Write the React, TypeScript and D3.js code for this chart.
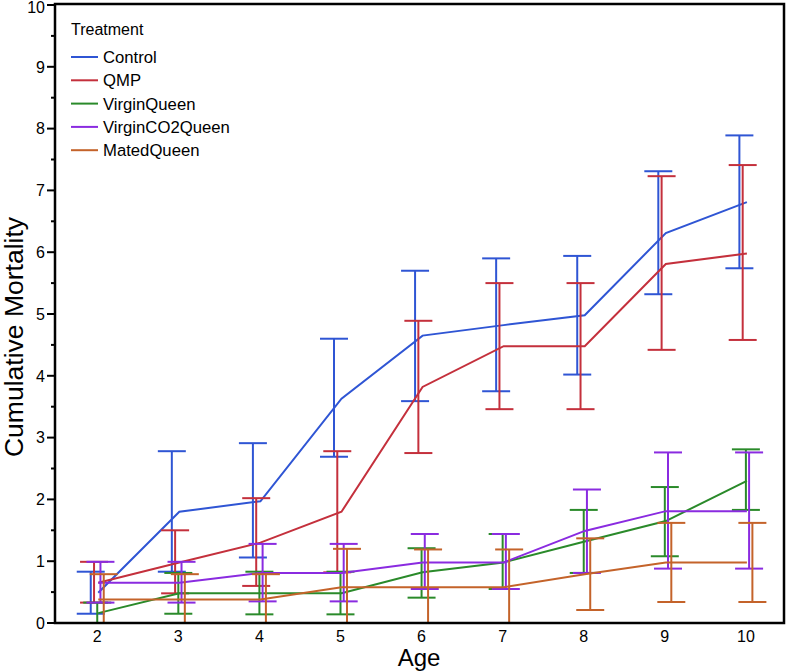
import React from "react";
import * as d3 from "d3";

const ages = [2, 3, 4, 5, 6, 7, 8, 9, 10];
const treatments = ["Control", "QMP", "VirginQueen", "VirginCO2Queen", "MatedQueen"];
const colors = ["#2F55D4", "#C4303C", "#2A8A2A", "#8A2BE0", "#C4632A"];

const controlMean = [0.49, 1.8, 1.97, 3.63, 4.65, 4.82, 4.98, 6.31, 6.81];
const controlLower = [0.15, 0.83, 1.06, 2.69, 3.59, 3.75, 4.02, 5.32, 5.74];
const controlUpper = [0.83, 2.78, 2.91, 4.6, 5.7, 5.9, 5.94, 7.31, 7.89];

const qmpMean = [0.65, 0.98, 1.3, 1.8, 3.82, 4.48, 4.48, 5.81, 5.98];
const qmpLower = [0.33, 0.48, 0.6, 0.82, 2.75, 3.46, 3.46, 4.42, 4.58];
const qmpUpper = [0.99, 1.5, 2.02, 2.78, 4.89, 5.5, 5.5, 7.23, 7.41];

const virginMean = [0.16, 0.48, 0.48, 0.48, 0.82, 0.98, 1.32, 1.65, 2.3];
const virginLower = [-0.02, 0.15, 0.14, 0.14, 0.41, 0.55, 0.81, 1.08, 1.83];
const virginUpper = [0.33, 0.81, 0.83, 0.83, 1.21, 1.44, 1.83, 2.2, 2.81];

const co2Mean = [0.65, 0.65, 0.81, 0.81, 0.98, 0.98, 1.49, 1.81, 1.81];
const co2Lower = [0.33, 0.33, 0.35, 0.35, 0.55, 0.55, 0.81, 0.88, 0.88];
const co2Upper = [0.99, 0.99, 1.28, 1.28, 1.44, 1.44, 2.16, 2.76, 2.76];

const matedMean = [0.38, 0.38, 0.38, 0.58, 0.58, 0.58, 0.79, 0.98, 0.98];
const matedLower = [-0.03, -0.03, -0.03, -0.04, -0.04, -0.04, 0.21, 0.34, 0.34];
const matedUpper = [0.79, 0.79, 0.79, 1.2, 1.19, 1.19, 1.37, 1.62, 1.62];

const yTicks = [0, 1, 2, 3, 4, 5, 6, 7, 8, 9, 10];

const means = [controlMean, qmpMean, virginMean, co2Mean, matedMean];
const lowers = [controlLower, qmpLower, virginLower, co2Lower, matedLower];
const uppers = [controlUpper, qmpUpper, virginUpper, co2Upper, matedUpper];

const W = 792;
const H = 671;
const left = 55;
const right = 784;
const top = 4;
const bottom = 623;
const font = "'Liberation Sans', Arial, sans-serif";

export default function App() {
  const x = d3.scaleLinear().domain([1.479, 10.47]).range([left, right]);
  const y = d3.scaleLinear().domain([0, 10]).range([bottom, 5]);
  const offsets = [-6.5, -3.2, 0, 3.2, 6.5];
  const capHalf = 14;

  const line = d3
    .line<[number, number]>()
    .x((d) => x(d[0]) + 1)
    .y((d) => y(d[1]));

  const minorTicks = d3.range(0.5, 10, 1);

  return (
    <svg
      width={W}
      height={H}
      style={{ position: "absolute", left: 0, top: 0, background: "#fff" }}
      fontFamily={font}
    >
      <defs>
        <clipPath id="plotclip">
          <rect x={left} y={top} width={right - left} height={bottom - top} />
        </clipPath>
      </defs>
      <rect x={0} y={0} width={W} height={H} fill="#fff" />

      <g clipPath="url(#plotclip)">
        {treatments.map((t, si) => (
          <g key={t}>
            {ages.map((a, i) => {
              const cx = x(a) + offsets[si];
              const lo = y(lowers[si][i]);
              const hi = y(uppers[si][i]);
              return (
                <g key={a} stroke={colors[si]} strokeWidth={2} fill="none">
                  <line x1={cx} x2={cx} y1={lo} y2={hi} />
                  <line x1={cx - capHalf} x2={cx + capHalf} y1={lo} y2={lo} />
                  <line x1={cx - capHalf} x2={cx + capHalf} y1={hi} y2={hi} />
                </g>
              );
            })}
            <path
              d={line(ages.map((a, i) => [a, means[si][i]] as [number, number])) || ""}
              fill="none"
              stroke={colors[si]}
              strokeWidth={2}
            />
          </g>
        ))}
      </g>

      {/* frame */}
      <rect
        x={left}
        y={top}
        width={right - left}
        height={bottom - top}
        fill="none"
        stroke="#000"
        strokeWidth={2.5}
      />

      {/* y axis ticks */}
      {yTicks.map((v) => (
        <g key={v}>
          <line x1={left - 8} x2={left} y1={y(v)} y2={y(v)} stroke="#000" strokeWidth={2} />
          <text
            x={left - 10}
            y={Math.max(y(v), 7)}
            dy="0.36em"
            textAnchor="end"
            fontSize={16}
            fill="#000"
          >
            {v}
          </text>
        </g>
      ))}
      {minorTicks.map((v) => (
        <line key={v} x1={left - 4} x2={left} y1={y(v)} y2={y(v)} stroke="#000" strokeWidth={2} />
      ))}

      {/* x axis labels */}
      {ages.map((a) => (
        <text key={a} x={x(a)} y={642} textAnchor="middle" fontSize={16} fill="#000">
          {a}
        </text>
      ))}

      <text x={419} y={666} textAnchor="middle" fontSize={24} fill="#000">
        Age
      </text>
      <text
        transform={`translate(23,337) rotate(-90)`}
        textAnchor="middle"
        fontSize={26.5}
        fill="#000"
      >
        Cumulative Mortality
      </text>

      {/* legend */}
      <text x={71} y={34.5} fontSize={16} fill="#000">
        Treatment
      </text>
      {treatments.map((t, si) => {
        const ly = 57 + si * 23.3;
        return (
          <g key={t}>
            <line x1={71} x2={98} y1={ly} y2={ly} stroke={colors[si]} strokeWidth={2} />
            <text x={103} y={ly} dy="0.36em" fontSize={16.7} fill="#000">
              {t}
            </text>
          </g>
        );
      })}
    </svg>
  );
}
